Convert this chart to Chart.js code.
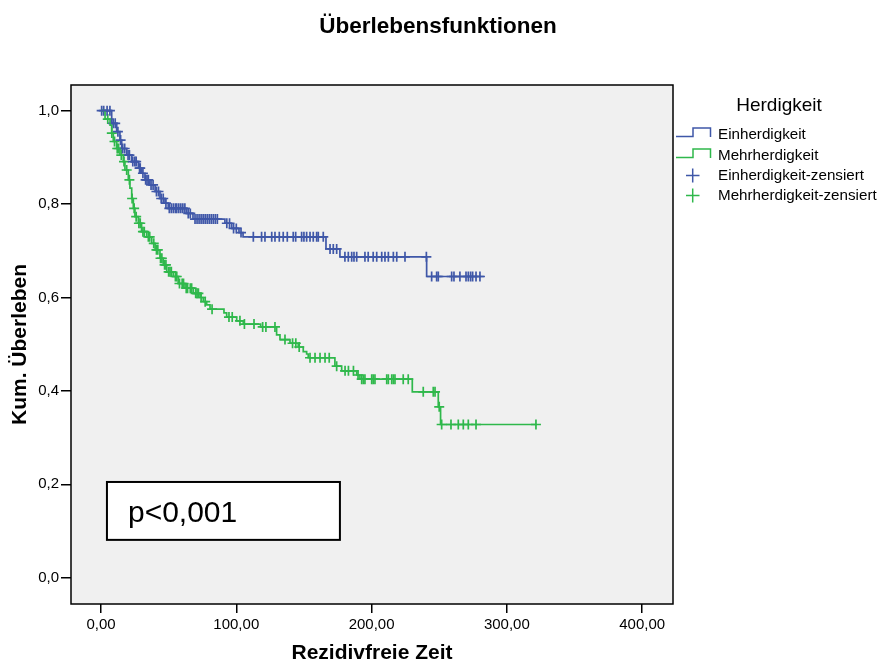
<!DOCTYPE html>
<html>
<head>
<meta charset="utf-8">
<script src="https://cdn.jsdelivr.net/npm/chart.js@4.4.1/dist/chart.umd.min.js"></script>
<style>
  body { margin: 0; background: #fff; }
</style>
</head>
<body>
<canvas id="km" width="882" height="664"></canvas>
<script>
// Kaplan-Meier data
const blueTimes = [0, 7.9, 11.6, 14, 15.3, 19, 22.7, 27.6, 30, 32.5, 36, 40, 43.6, 47.3, 49.7, 63.3, 68, 91.6, 96.6, 102, 105, 166.3, 176.6, 240.7];
const blueSurv  = [1.0, 0.973, 0.955, 0.937, 0.919, 0.905, 0.891, 0.877, 0.866, 0.852, 0.841, 0.827, 0.812, 0.802, 0.791, 0.780, 0.768, 0.759, 0.748, 0.739, 0.730, 0.704, 0.687, 0.645];
const blueEnd = 283;
const blueCensored = [0.5, 2, 4.5, 6.6, 9, 10.5, 12.5, 14.5, 16, 17.5, 20, 21, 23.5, 25, 26, 28.5, 29, 31, 33, 34, 35, 37, 38.5, 41, 42.5,
  44.5, 46, 48, 50.5, 52, 53.5, 55, 56, 57.5, 59, 60.5, 62, 64.5, 66, 69.5, 71, 72.5, 74, 75.5, 77, 78.5, 80, 81.5, 83, 84.5, 86,
  93, 95, 98, 100, 103.5, 112.6, 118.7, 121.2, 126.2, 128.6, 131.8, 134.7, 137.7, 142.1, 143.9, 148.3, 150, 152, 154.5, 156.9,
  159.4, 160.6, 164.3, 169.3, 171.7, 174.2, 180.3, 182.8, 185.3, 187, 189, 195.1, 197.5, 201.2, 203.8, 207.5, 209.9, 212.4,
  216.1, 218.6, 224.7, 240.5, 244.4, 248.1, 249.3, 259.2, 260.9, 265.3, 269.8, 271.5, 273.2, 274.7, 277.2, 280.1];

const greenTimes = [0, 3, 6.7, 7.9, 9.1, 11.6, 14, 16.5, 17.7, 20.2, 21.4, 22.7, 23.9, 25.1, 27.6, 30, 33.8, 37.5, 40, 43.6, 46, 48.6,
  53.4, 57.1, 62.1, 68.2, 73.2, 75.6, 78.1, 80.6, 90.9, 92.9, 100.3, 105.2, 118, 129.8, 132.3, 139.7, 145.8, 149.5, 152, 153.2,
  172.9, 177.9, 189, 191.4, 230.1, 249.3, 251];
const greenSurv  = [1.0, 0.982, 0.969, 0.952, 0.934, 0.919, 0.905, 0.891, 0.873, 0.852, 0.834, 0.812, 0.791, 0.773, 0.759, 0.741,
  0.730, 0.716, 0.702, 0.684, 0.670, 0.655, 0.645, 0.630, 0.620, 0.609, 0.600, 0.591, 0.584, 0.575, 0.567, 0.558, 0.550, 0.543,
  0.537, 0.520, 0.510, 0.502, 0.494, 0.484, 0.479, 0.471, 0.453, 0.443, 0.434, 0.425, 0.398, 0.366, 0.328];
const greenEnd = 322;
const greenCensored = [5, 8, 10, 12, 13, 15, 17, 19, 21, 23, 24.5, 26, 28, 29, 31, 32, 35, 36, 39, 41, 42, 44, 45, 47, 48, 50, 51, 52,
  55, 56, 58, 60, 61, 63, 64, 66, 67, 70, 71, 72, 74, 77, 82.1, 94.6, 97, 102.7, 106, 113.1, 119.5, 121.9, 128.6, 136, 141.6,
  144, 146.5, 154.5, 158.2, 161.9, 165.6, 168.7, 174.2, 180.4, 182.9, 186.6, 190, 192.7, 193.9, 195.1, 200.1, 201.2, 202.5,
  211.2, 212.4, 214.9, 216.1, 217.3, 223.4, 227.1, 238.2, 245.6, 246.9, 250, 251.8, 258.7, 264.1, 267.8, 271.5, 277.2, 321.5];

const xTicks = [0, 100, 200, 300, 400];
const yTicks = [0, 0.2, 0.4, 0.6, 0.8, 1.0];
const groups = ['Einherdigkeit', 'Mehrherdigkeit'];

const BLUE = '#3f57a8';
const GREEN = '#2fb84b';
const FONT = '"Liberation Sans", Arial, sans-serif';

function survAt(times, surv, t) {
  let s = surv[0];
  for (let i = 0; i < times.length; i++) {
    if (times[i] <= t) s = surv[i];
  }
  return s;
}

function curve(times, surv, end) {
  const pts = times.map((t, i) => ({ x: t, y: surv[i] }));
  pts.push({ x: end, y: surv[surv.length - 1] });
  return pts;
}

function marks(times, surv, cens) {
  return cens.map(t => ({ x: t, y: survAt(times, surv, t) }));
}

const decorations = {
  id: 'decorations',
  beforeDatasetsDraw(chart) {
    const { ctx, chartArea: a } = chart;
    ctx.save();
    ctx.fillStyle = '#f0f0f0';
    ctx.fillRect(a.left, a.top, a.right - a.left, a.bottom - a.top);
    ctx.restore();
  },
  afterDraw(chart) {
    const { ctx, chartArea: a, scales } = chart;
    ctx.save();
    // frame
    ctx.strokeStyle = '#000';
    ctx.lineWidth = 1.5;
    ctx.strokeRect(a.left, a.top, a.right - a.left, a.bottom - a.top);

    // title
    ctx.fillStyle = '#000';
    ctx.font = 'bold 22.5px ' + FONT;
    ctx.textAlign = 'center';
    ctx.textBaseline = 'alphabetic';
    ctx.fillText('Überlebensfunktionen', 438, 33);

    // p-value box
    const bx1 = scales.x.getPixelForValue(4.4), bx2 = scales.x.getPixelForValue(176.6);
    const by1 = scales.y.getPixelForValue(0.205), by2 = scales.y.getPixelForValue(0.081);
    ctx.fillStyle = '#fff';
    ctx.fillRect(bx1, by1, bx2 - bx1, by2 - by1);
    ctx.lineWidth = 2;
    ctx.strokeRect(bx1, by1, bx2 - bx1, by2 - by1);
    ctx.fillStyle = '#000';
    ctx.font = '30px ' + FONT;
    ctx.textAlign = 'left';
    ctx.fillText('p<0,001', bx1 + 21, by1 + 40);

    // legend
    ctx.font = '19px ' + FONT;
    ctx.textAlign = 'center';
    ctx.fillText('Herdigkeit', 779, 111);
    ctx.font = '15.2px ' + FONT;
    ctx.textAlign = 'left';
    const rows = [
      { label: groups[0], color: BLUE, kind: 'line', y: 139 },
      { label: groups[1], color: GREEN, kind: 'line', y: 160 },
      { label: groups[0] + '-zensiert', color: BLUE, kind: 'cross', y: 180 },
      { label: groups[1] + '-zensiert', color: GREEN, kind: 'cross', y: 200 }
    ];
    rows.forEach(r => {
      ctx.strokeStyle = r.color;
      ctx.lineWidth = 1.5;
      ctx.beginPath();
      if (r.kind === 'line') {
        ctx.moveTo(676, r.y - 2.5);
        ctx.lineTo(693, r.y - 2.5);
        ctx.lineTo(693, r.y - 11);
        ctx.lineTo(710.5, r.y - 11);
        ctx.lineTo(710.5, r.y - 2);
      } else {
        ctx.moveTo(686, r.y - 4.5);
        ctx.lineTo(699.5, r.y - 4.5);
        ctx.moveTo(692.7, r.y - 11.5);
        ctx.lineTo(692.7, r.y + 2.5);
      }
      ctx.stroke();
      ctx.fillStyle = '#000';
      ctx.fillText(r.label, 718, r.y);
    });
    ctx.restore();
  }
};

new Chart(document.getElementById('km'), {
  type: 'line',
  data: {
    datasets: [
      {
        label: groups[0], data: curve(blueTimes, blueSurv, blueEnd), stepped: 'before',
        borderColor: BLUE, borderWidth: 1.7, pointRadius: 0, fill: false
      },
      {
        label: groups[1], data: curve(greenTimes, greenSurv, greenEnd), stepped: 'before',
        borderColor: GREEN, borderWidth: 1.7, pointRadius: 0, fill: false
      },
      {
        label: groups[0] + '-zensiert', type: 'scatter', data: marks(blueTimes, blueSurv, blueCensored),
        showLine: false, pointStyle: 'cross', pointRadius: 5, borderColor: BLUE, borderWidth: 1.7
      },
      {
        label: groups[1] + '-zensiert', type: 'scatter', data: marks(greenTimes, greenSurv, greenCensored),
        showLine: false, pointStyle: 'cross', pointRadius: 5, borderColor: GREEN, borderWidth: 1.7
      }
    ]
  },
  options: {
    responsive: false,
    animation: false,
    events: [],
    layout: { padding: { top: 85, right: 209, left: 0, bottom: 0 } },
    plugins: { legend: { display: false }, tooltip: { enabled: false } },
    scales: {
      x: {
        type: 'linear', min: -22.17, max: 422.8,
        afterBuildTicks: s => { s.ticks = xTicks.map(v => ({ value: v })); },
        afterFit: s => { s.height = 60; },
        grid: { drawOnChartArea: false, tickLength: 9, color: '#000', lineWidth: 1.5 },
        border: { display: false },
        ticks: {
          autoSkip: false, maxRotation: 0, padding: 3, color: '#000',
          font: { family: FONT, size: 15 },
          callback: v => v.toFixed(2).replace('.', ',')
        },
        title: {
          display: true, text: 'Rezidivfreie Zeit', color: '#000',
          font: { family: FONT, size: 21, weight: 'bold', lineHeight: 1 },
          padding: { top: 0, bottom: 0 }
        }
      },
      y: {
        type: 'linear', min: -0.0563, max: 1.055,
        afterBuildTicks: s => { s.ticks = yTicks.map(v => ({ value: v })); },
        afterFit: s => { s.width = 71; },
        grid: { drawOnChartArea: false, tickLength: 10, color: '#000', lineWidth: 1.5 },
        border: { display: false },
        ticks: {
          autoSkip: false, padding: 2, color: '#000',
          font: { family: FONT, size: 15 },
          callback: v => v.toFixed(1).replace('.', ',')
        },
        title: {
          display: true, text: 'Kum. Überleben', color: '#000',
          font: { family: FONT, size: 21, weight: 'bold', lineHeight: 1 },
          padding: { top: 10, bottom: 0 }
        }
      }
    }
  },
  plugins: [decorations]
});
</script>
</body>
</html>
